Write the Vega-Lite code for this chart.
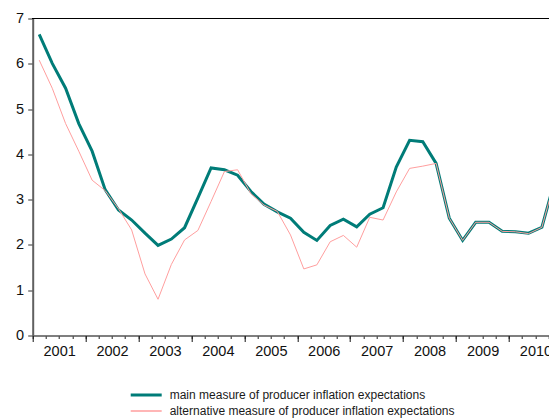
{
  "$schema": "https://vega.github.io/schema/vega-lite/v6.json",
  "autosize": "none",
  "padding": {"left": 32.7, "top": 18.5, "right": 0, "bottom": 82.5},
  "width": 516.3,
  "height": 317,
  "config": {
    "view": {"stroke": null},
    "font": "Liberation Sans",
    "axis": {"labelFont": "Liberation Sans", "labelColor": "#111111", "grid": false, "title": null}
  },
  "data": {"values": [
    {"date": "2001-02-15T00:00:00", "main": 6.65, "alt": 6.08},
    {"date": "2001-05-16T00:00:00", "main": 6.01, "alt": 5.46},
    {"date": "2001-08-16T00:00:00", "main": 5.46, "alt": 4.68},
    {"date": "2001-11-15T00:00:00", "main": 4.68, "alt": 4.07},
    {"date": "2002-02-15T00:00:00", "main": 4.07, "alt": 3.43},
    {"date": "2002-05-16T00:00:00", "main": 3.22, "alt": 3.20},
    {"date": "2002-08-16T00:00:00", "main": 2.77, "alt": 2.80},
    {"date": "2002-11-15T00:00:00", "main": 2.55, "alt": 2.33},
    {"date": "2003-02-15T00:00:00", "main": 2.26, "alt": 1.36},
    {"date": "2003-05-16T00:00:00", "main": 1.99, "alt": 0.80},
    {"date": "2003-08-16T00:00:00", "main": 2.13, "alt": 1.57},
    {"date": "2003-11-15T00:00:00", "main": 2.38, "alt": 2.11},
    {"date": "2004-02-15T00:00:00", "main": 3.04, "alt": 2.32},
    {"date": "2004-05-16T00:00:00", "main": 3.70, "alt": 2.96},
    {"date": "2004-08-16T00:00:00", "main": 3.66, "alt": 3.62},
    {"date": "2004-11-15T00:00:00", "main": 3.54, "alt": 3.66},
    {"date": "2005-02-15T00:00:00", "main": 3.18, "alt": 3.13},
    {"date": "2005-05-16T00:00:00", "main": 2.90, "alt": 2.88},
    {"date": "2005-08-16T00:00:00", "main": 2.73, "alt": 2.74},
    {"date": "2005-11-15T00:00:00", "main": 2.59, "alt": 2.22},
    {"date": "2006-02-15T00:00:00", "main": 2.28, "alt": 1.47},
    {"date": "2006-05-16T00:00:00", "main": 2.10, "alt": 1.56},
    {"date": "2006-08-16T00:00:00", "main": 2.43, "alt": 2.07},
    {"date": "2006-11-15T00:00:00", "main": 2.57, "alt": 2.21},
    {"date": "2007-02-15T00:00:00", "main": 2.40, "alt": 1.95},
    {"date": "2007-05-16T00:00:00", "main": 2.68, "alt": 2.61},
    {"date": "2007-08-16T00:00:00", "main": 2.82, "alt": 2.55},
    {"date": "2007-11-15T00:00:00", "main": 3.72, "alt": 3.17},
    {"date": "2008-02-15T00:00:00", "main": 4.31, "alt": 3.69},
    {"date": "2008-05-16T00:00:00", "main": 4.28, "alt": 3.74},
    {"date": "2008-08-16T00:00:00", "main": 3.80, "alt": 3.80},
    {"date": "2008-11-15T00:00:00", "main": 2.59, "alt": 2.59},
    {"date": "2009-02-15T00:00:00", "main": 2.10, "alt": 2.10},
    {"date": "2009-05-16T00:00:00", "main": 2.50, "alt": 2.50},
    {"date": "2009-08-16T00:00:00", "main": 2.50, "alt": 2.50},
    {"date": "2009-11-15T00:00:00", "main": 2.30, "alt": 2.30},
    {"date": "2010-02-15T00:00:00", "main": 2.29, "alt": 2.29},
    {"date": "2010-05-16T00:00:00", "main": 2.26, "alt": 2.25},
    {"date": "2010-08-16T00:00:00", "main": 2.39, "alt": 2.39},
    {"date": "2010-11-15T00:00:00", "main": 3.45, "alt": 3.45}
  ]},
  "layer": [
    {
      "mark": {"type": "rule", "color": "#000000", "strokeWidth": 1},
      "encoding": {"y": {"datum": 7, "type": "quantitative"}}
    },
    {
      "mark": {"type": "line", "clip": true},
      "encoding": {
        "x": {
          "field": "date", "type": "temporal",
          "scale": {"domain": [{"year": 2001, "month": 1, "date": 1}, {"year": 2010, "month": 10, "date": 4}]},
          "axis": {"orient": "bottom", "tickCount": {"interval": "month", "step": 3}, "labels": false, "tickSize": 3, "tickColor": "#222222", "domainColor": "#555555", "domainWidth": 1.5}
        },
        "y": {
          "field": "main", "type": "quantitative",
          "scale": {"domain": [0, 7], "nice": false},
          "axis": {"values": [0, 1, 2, 3, 4, 5, 6, 7], "tickSize": 5, "tickColor": "#333333", "domainColor": "#606060", "domainWidth": 2, "labelFontSize": 14.5, "labelPadding": 4}
        },
        "color": {
          "datum": "main measure of producer inflation expectations",
          "scale": {"domain": ["main measure of producer inflation expectations", "alternative measure of producer inflation expectations"], "range": ["#007C78", "#FF9E9E"]},
          "legend": {"orient": "none", "legendX": 104, "legendY": 367, "title": null, "symbolType": "M-2,0H2", "symbolSize": 240, "labelOffset": 14, "labelFontSize": 12, "labelFont": "Liberation Sans", "labelColor": "#1a1a1a", "labelLimit": 0, "padding": 0, "rowPadding": 1, "direction": "vertical"}
        },
        "strokeWidth": {
          "datum": "main measure of producer inflation expectations",
          "scale": {"type": "ordinal", "domain": ["main measure of producer inflation expectations", "alternative measure of producer inflation expectations"], "range": [3, 1.5]}
        }
      }
    },
    {
      "mark": {"type": "line", "clip": true, "strokeWidth": 1},
      "encoding": {
        "x": {
          "field": "date", "type": "temporal",
          "axis": {"orient": "bottom", "tickCount": {"interval": "year", "step": 1}, "format": "%Y", "labelOffset": 26.45, "tickSize": 6, "tickColor": "#111111", "domain": false, "labelFlush": false, "labelOverlap": false, "labelBound": false, "labelFontSize": 14.5, "labelPadding": 3}
        },
        "y": {"field": "alt", "type": "quantitative"},
        "color": {"datum": "alternative measure of producer inflation expectations"}
      }
    }
  ],
  "resolve": {"axis": {"x": "independent"}}
}
